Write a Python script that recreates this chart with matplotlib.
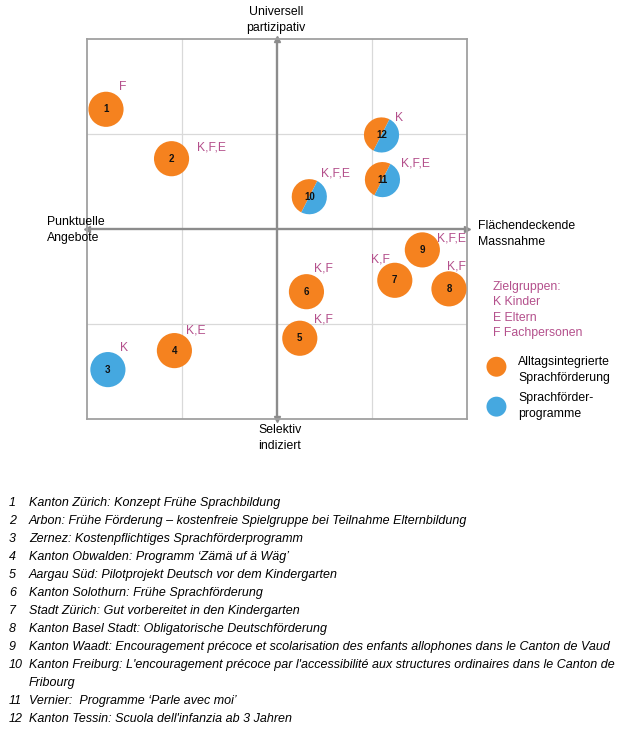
import matplotlib.pyplot as plt
from matplotlib.patches import Circle, Wedge

plt.rcParams['font.family'] = ['Liberation Sans', 'DejaVu Sans']

# projects: id, x (punktuell -> flaechendeckend), y (selektiv -> universell)
ids = [1, 2, 3, 4, 5, 6, 7, 8, 9, 10, 11, 12]
xs = [-1.80, -1.11, -1.78, -1.08, 0.24, 0.31, 1.24, 1.81, 1.53, 0.34, 1.11, 1.10]
ys = [1.26, 0.74, -1.48, -1.28, -1.15, -0.66, -0.54, -0.63, -0.22, 0.34, 0.52, 0.99]
# 'A' = Alltagsintegrierte Sprachfoerderung, 'P' = Programme, 'AP' = beides
kinds = ['A', 'A', 'P', 'A', 'A', 'A', 'A', 'A', 'A', 'AP', 'AP', 'AP']
groups = ['F', 'K,F,E', 'K', 'K,E', 'K,F', 'K,F', 'K,F', 'K,F', 'K,F,E', 'K,F,E', 'K,F,E', 'K']
# where the target-group label sits relative to the circle (data units)
label_dx = [0.18, 0.42, 0.17, 0.23, 0.25, 0.18, -0.15, 0.08, 0.31, 0.28, 0.35, 0.19]
label_dy = [0.24, 0.12, 0.23, 0.21, 0.20, 0.24, 0.22, 0.24, 0.12, 0.24, 0.17, 0.18]

descriptions = [
    "Kanton Zürich: Konzept Frühe Sprachbildung",
    "Arbon: Frühe Förderung – kostenfreie Spielgruppe bei Teilnahme Elternbildung",
    "Zernez: Kostenpflichtiges Sprachförderprogramm",
    "Kanton Obwalden: Programm ‘Zämä uf ä Wäg’",
    "Aargau Süd: Pilotprojekt Deutsch vor dem Kindergarten",
    "Kanton Solothurn: Frühe Sprachförderung",
    "Stadt Zürich: Gut vorbereitet in den Kindergarten",
    "Kanton Basel Stadt: Obligatorische Deutschförderung",
    "Kanton Waadt: Encouragement précoce et scolarisation des enfants allophones dans le Canton de Vaud",
    "Kanton Freiburg: L'encouragement précoce par l'accessibilité aux structures ordinaires dans le Canton de\nFribourg",
    "Vernier:  Programme ‘Parle avec moi’",
    "Kanton Tessin: Scuola dell'infanzia ab 3 Jahren",
]

orange = '#f5821f'
blue = '#45a8e0'
pink = '#b4508c'
W, H = 622, 730


def fx(x):
    return x / W


def fy(y):
    return 1 - y / H


fig = plt.figure(figsize=(W / 100, H / 100), dpi=100)
ax = fig.add_axes([fx(87), fy(419), 380 / W, 380 / H])
ax.set_xlim(-2, 2)
ax.set_ylim(-2, 2)
ax.set_xticks([])
ax.set_yticks([])
for s in ax.spines.values():
    s.set_color('#a0a0a0')
    s.set_linewidth(1.3)

# light grid
for v in (-1, 1):
    ax.axvline(v, color='#d9d9d9', lw=0.9, zorder=0)
    ax.axhline(v, color='#d9d9d9', lw=0.9, zorder=0)

# main cross with arrow heads
ax.plot([0, 0], [-2, 2], color='#8c8c8c', lw=1.7, zorder=1, clip_on=False)
ax.plot([-2, 2], [0, 0], color='#8c8c8c', lw=1.7, zorder=1, clip_on=False)
ax.plot([0], [2.0], marker='^', color='#8c8c8c', ms=5, clip_on=False, zorder=1)
ax.plot([0], [-2.0], marker='v', color='#8c8c8c', ms=5, clip_on=False, zorder=1)
ax.plot([2.0], [0], marker='>', color='#8c8c8c', ms=5, clip_on=False, zorder=1)
ax.plot([-2.0], [0], marker='<', color='#8c8c8c', ms=5, clip_on=False, zorder=1)

r = 0.185
for i, x, y, k, g, dx, dy in zip(ids, xs, ys, kinds, groups, label_dx, label_dy):
    if k == 'AP':
        ax.add_patch(Wedge((x, y), r, 63, 243, facecolor=orange, edgecolor='none', zorder=3))
        ax.add_patch(Wedge((x, y), r, 243, 423, facecolor=blue, edgecolor='none', zorder=3))
    else:
        ax.add_patch(Circle((x, y), r, facecolor=orange if k == 'A' else blue,
                            edgecolor='none', zorder=3))
    ax.text(x, y, str(i), ha='center', va='center', fontsize=7, fontweight='bold',
            color='#111111', zorder=4)
    ax.text(x + dx, y + dy, g, ha='center', va='center', fontsize=8.7, color=pink, zorder=4)

# legend markers (in the chart's units, outside the box)
ax.add_patch(Circle((2.31, -1.45), 0.105, facecolor=orange, edgecolor='none', clip_on=False))
ax.add_patch(Circle((2.31, -1.87), 0.105, facecolor=blue, edgecolor='none', clip_on=False))

# axis end labels
lab = dict(fontsize=8.8, linespacing=1.45)
fig.text(fx(276), fy(20), "Universell\npartizipativ", ha='center', va='center', **lab)
fig.text(fx(47), fy(230), "Punktuelle\nAngebote", ha='left', va='center', **lab)
fig.text(fx(478), fy(234), "Flächendeckende\nMassnahme", ha='left', va='center', **lab)
fig.text(fx(258), fy(438), "Selektiv\nindiziert", ha='left', va='center', **lab)

# legend text
fig.text(fx(493), fy(310), "Zielgruppen:\nK Kinder\nE Eltern\nF Fachpersonen", ha='left',
         va='center', fontsize=8.8, color=pink, linespacing=1.35)
fig.text(fx(518), fy(370), "Alltagsintegrierte\nSprachförderung", ha='left', va='center',
         fontsize=8.8, linespacing=1.35)
fig.text(fx(518), fy(406), "Sprachförder-\nprogramme", ha='left', va='center',
         fontsize=8.8, linespacing=1.35)

# numbered list below
y0 = 503
for i, d in zip(ids, descriptions):
    fig.text(fx(9), fy(y0), str(i), ha='left', va='center', fontsize=9, style='italic')
    lines = d.split('\n')
    for ln in lines:
        fig.text(fx(29), fy(y0), ln, ha='left', va='center', fontsize=9, style='italic')
        y0 += 18

fig.savefig('out.png', dpi=100)
